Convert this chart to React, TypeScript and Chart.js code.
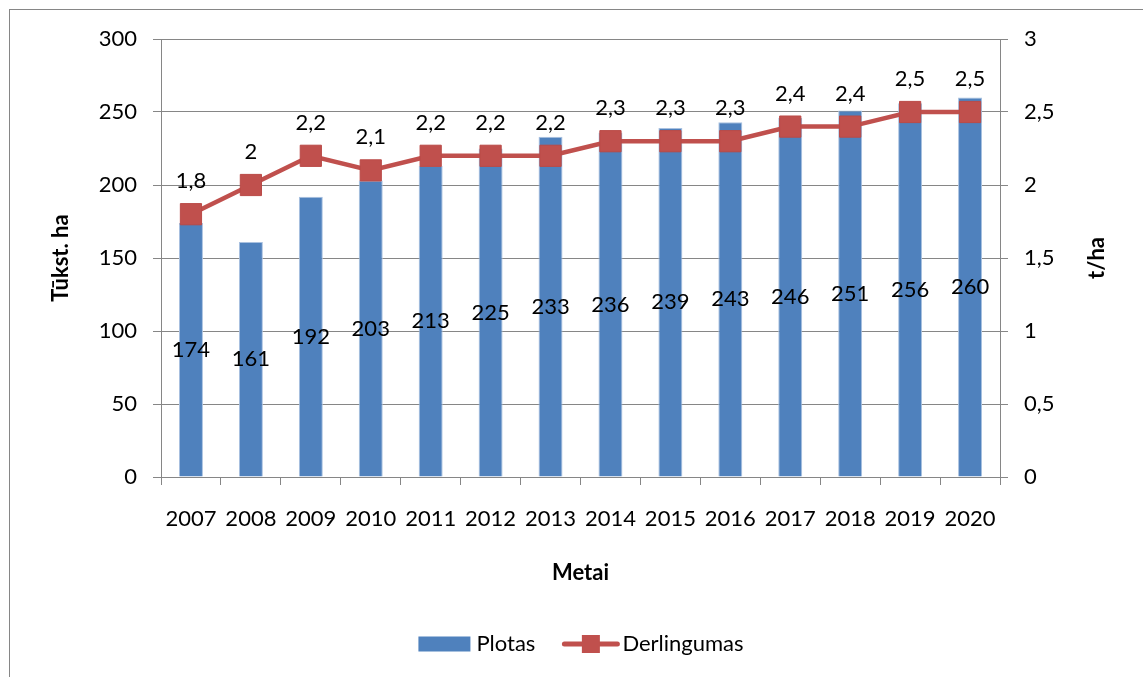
import React, { useEffect, useRef } from "react";
import { Chart, registerables } from "chart.js";

Chart.register(...registerables);

const years = ["2007", "2008", "2009", "2010", "2011", "2012", "2013", "2014", "2015", "2016", "2017", "2018", "2019", "2020"];
const plotas = [174, 161, 192, 203, 213, 225, 233, 236, 239, 243, 246, 251, 256, 260];
const derlingumas = [1.8, 2, 2.2, 2.1, 2.2, 2.2, 2.2, 2.3, 2.3, 2.3, 2.4, 2.4, 2.5, 2.5];

const leftTitle = "Tūkst. ha";
const rightTitle = "t/ha";
const xTitle = "Metai";
const barName = "Plotas";
const lineName = "Derlingumas";

const FONT = "Lato, 'Open Sans', 'DejaVu Sans', sans-serif";
const BLUE = "#4F81BD";
const RED = "#C0504D";
const GRID = "#868686";

const fmt = (v: number) => String(v).replace(".", ",");

const decor = {
  id: "decor",
  beforeDraw(chart: any) {
    const ctx = chart.ctx;
    ctx.save();
    ctx.fillStyle = "#ffffff";
    ctx.fillRect(0, 0, chart.width, chart.height);
    ctx.strokeStyle = GRID;
    ctx.lineWidth = 1;
    ctx.strokeRect(9.5, 9.5, chart.width + 20, chart.height + 20);
    ctx.restore();
  },
  afterDatasetsDraw(chart: any) {
    const ctx = chart.ctx;
    ctx.save();
    ctx.font = `22px ${FONT}`;
    ctx.fillStyle = "#000";
    ctx.textAlign = "center";
    ctx.textBaseline = "middle";
    const barMeta = chart.getDatasetMeta(0);
    barMeta.data.forEach((el: any, i: number) => {
      const p = el.getProps(["x", "y", "base"], true);
      ctx.fillText(String(plotas[i]), p.x, (p.y + p.base) / 2);
    });
    const lineMeta = chart.getDatasetMeta(1);
    lineMeta.data.forEach((el: any, i: number) => {
      ctx.fillText(fmt(derlingumas[i]), el.x, el.y - 33);
    });
    ctx.restore();
  },
  afterDraw(chart: any) {
    const ctx = chart.ctx;
    const area = chart.chartArea;
    const midY = (area.top + area.bottom) / 2;
    ctx.save();
    ctx.fillStyle = "#000";
    ctx.font = `bold 22px ${FONT}`;
    ctx.textAlign = "center";
    ctx.textBaseline = "middle";
    // left axis title
    ctx.save();
    ctx.translate(61, midY);
    ctx.rotate(-Math.PI / 2);
    ctx.fillText(leftTitle, 0, 0);
    ctx.restore();
    // right axis title
    ctx.save();
    ctx.translate(1097, midY);
    ctx.rotate(-Math.PI / 2);
    ctx.fillText(rightTitle, 0, 0);
    ctx.restore();
    // x axis title
    ctx.fillText(xTitle, (area.left + area.right) / 2, 573);

    // legend
    ctx.font = `22px ${FONT}`;
    ctx.textAlign = "left";
    const w1 = ctx.measureText(barName).width;
    const w2 = ctx.measureText(lineName).width;
    const total = 52 + 6 + w1 + 27 + 57 + 3 + w2;
    let x = 581 - total / 2;
    const ly = 644;
    ctx.fillStyle = BLUE;
    ctx.fillRect(x, ly - 7.5, 52, 15);
    x += 58;
    ctx.fillStyle = "#000";
    ctx.fillText(barName, x, ly);
    x += w1 + 27;
    ctx.strokeStyle = RED;
    ctx.lineWidth = 5;
    ctx.lineCap = "round";
    ctx.beginPath();
    ctx.moveTo(x + 2, ly);
    ctx.lineTo(x + 55, ly);
    ctx.stroke();
    ctx.fillStyle = RED;
    ctx.fillRect(x + 28.5 - 9, ly - 9, 18, 18);
    x += 60;
    ctx.fillStyle = "#000";
    ctx.fillText(lineName, x, ly);
    ctx.restore();
  },
};

export default function App() {
  const ref = useRef<HTMLCanvasElement | null>(null);

  useEffect(() => {
    if (!ref.current) return;
    const chart = new Chart(ref.current, {
      type: "bar",
      data: {
        labels: years,
        datasets: [
          {
            type: "bar",
            label: barName,
            data: plotas,
            yAxisID: "y",
            backgroundColor: BLUE,
            borderColor: "#A9C1E0",
            borderWidth: 1,
            barPercentage: 0.4,
            categoryPercentage: 1,
            order: 2,
          },
          {
            type: "line",
            label: lineName,
            data: derlingumas,
            yAxisID: "y1",
            borderColor: RED,
            backgroundColor: RED,
            borderWidth: 4.5,
            pointStyle: "rect",
            pointRadius: 15,
            pointBorderColor: "#BA4A47",
            pointBorderWidth: 1,
            pointBackgroundColor: RED,
            tension: 0,
            order: 1,
          } as any,
        ],
      },
      options: {
        responsive: false,
        animation: false,
        layout: { padding: { top: 39, left: 0, right: 0, bottom: 0 } },
        plugins: {
          legend: { display: false },
          tooltip: { enabled: false },
          title: { display: false },
        },
        scales: {
          x: {
            offset: true,
            grid: { drawOnChartArea: false, drawTicks: true, tickLength: 8, color: GRID, offset: true },
            border: { color: GRID, width: 1 },
            ticks: { color: "#000", font: { family: FONT, size: 22 }, padding: 21, maxRotation: 0, autoSkip: false },
            afterFit: (s: any) => { s.height = 200; },
          },
          y: {
            position: "left",
            min: 0,
            max: 300,
            ticks: { stepSize: 50, color: "#000", font: { family: FONT, size: 22 }, padding: 16 },
            grid: { color: GRID, tickLength: 8, lineWidth: 1 },
            border: { color: GRID, width: 1 },
            afterFit: (s: any) => { s.width = 161; },
          },
          y1: {
            position: "right",
            min: 0,
            max: 3,
            ticks: {
              stepSize: 0.5,
              color: "#000",
              font: { family: FONT, size: 22 },
              padding: 16,
              callback: (v: any) => fmt(Number(v)),
            },
            grid: { drawOnChartArea: false, color: GRID, tickLength: 8 },
            border: { color: GRID, width: 1 },
            afterFit: (s: any) => { s.width = 143; },
          },
        },
      },
      plugins: [decor],
    });
    return () => chart.destroy();
  }, []);

  return (
    <div style={{ position: "absolute", left: 0, top: 0, width: 1143, height: 677 }}>
      <canvas ref={ref} width={1143} height={677} style={{ display: "block" }} />
    </div>
  );
}
